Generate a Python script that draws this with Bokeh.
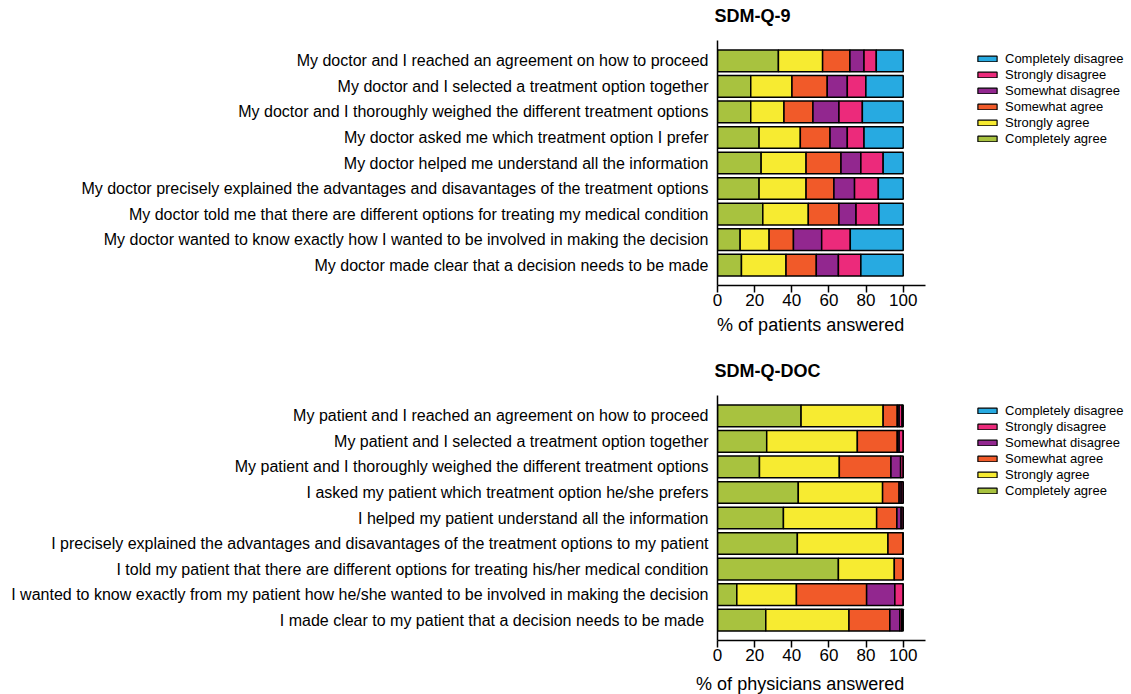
from bokeh.plotting import figure
from bokeh.models import (ColumnDataSource, Range1d, FixedTicker, Legend, LegendItem, Label)
from bokeh.layouts import column, row
from bokeh.embed import file_html
from bokeh.resources import INLINE

# ---------------- data ----------------
responses = ["Completely agree", "Strongly agree", "Somewhat agree",
             "Somewhat disagree", "Strongly disagree", "Completely disagree"]
colors = ["#A8C23F", "#F7EB31", "#F15A29", "#92278F", "#EC2A7B", "#27AAE1"]

q9_items = [
    "My doctor and I reached an agreement on how to proceed",
    "My doctor and I selected a treatment option together",
    "My doctor and I thoroughly weighed the different treatment options",
    "My doctor asked me which treatment option I prefer",
    "My doctor helped me understand all the information",
    "My doctor precisely explained the advantages and disavantages of the treatment options",
    "My doctor told me that there are different options for treating my medical condition",
    "My doctor wanted to know exactly how I wanted to be involved in making the decision",
    "My doctor made clear that a decision needs to be made",
]
q9_completely_agree    = [32.8, 17.9, 17.9, 22.4, 23.5, 22.4, 24.4, 12.2, 12.9]
q9_strongly_agree      = [23.8, 22.2, 17.9, 22.2, 24.2, 25.3, 24.5, 15.6, 24.0]
q9_somewhat_agree      = [14.7, 19.0, 15.6, 16.0, 18.8, 15.0, 16.5, 13.1, 16.3]
q9_somewhat_disagree   = [7.6, 10.8, 14.0, 9.3, 10.7, 11.1, 9.2, 15.2, 11.9]
q9_strongly_disagree   = [6.6, 10.0, 12.6, 9.0, 12.0, 12.8, 12.3, 15.4, 12.1]
q9_completely_disagree = [14.5, 20.1, 22.0, 21.1, 10.8, 13.4, 13.1, 28.5, 22.8]

doc_items = [
    "My patient and I reached an agreement on how to proceed",
    "My patient and I selected a treatment option together",
    "My patient and I thoroughly weighed the different treatment options",
    "I asked my patient which treatment option he/she prefers",
    "I helped my patient understand all the information",
    "I precisely explained the advantages and disavantages of the treatment options to my patient",
    "I told my patient that there are different options for treating his/her medical condition",
    "I wanted to know exactly from my patient how he/she wanted to be involved in making the decision",
    "I made clear to my patient  that a decision needs to be made",
]
doc_completely_agree    = [45.0, 26.5, 22.6, 43.5, 35.5, 43.0, 65.1, 10.4, 26.0]
doc_strongly_agree      = [44.2, 48.8, 43.0, 45.4, 50.2, 48.8, 30.1, 32.1, 44.8]
doc_somewhat_agree      = [7.6, 21.5, 27.8, 8.9, 10.9, 8.2, 4.8, 37.8, 22.0]
doc_somewhat_disagree   = [1.0, 1.0, 5.2, 1.1, 2.3, 0.0, 0.0, 15.2, 5.4]
doc_strongly_disagree   = [1.6, 2.2, 1.4, 1.1, 1.1, 0.0, 0.0, 4.5, 1.0]
doc_completely_disagree = [0.6, 0.0, 0.0, 0.0, 0.0, 0.0, 0.0, 0.0, 0.8]

x_ticks = [0, 20, 40, 60, 80, 100]
x_max = 112

# ---------------- geometry ----------------
FONT = "Liberation Sans"
W = 1131
LEFT = 717          # frame left
FRAME_W = 208
RIGHT = 10
CHART_W = LEFT + FRAME_W + RIGHT
LEG_W = W - CHART_W
FRAME_H = 245
TOP = 10
BOTTOM = 30
CHART_H = TOP + FRAME_H + BOTTOM
X100 = LEFT + FRAME_W * 100 / x_max   # pixel of value 100
BASE_FIX = 7        # baseline correction for labels


def text_fig(height):
    f = figure(width=W, height=height, x_range=Range1d(0, W),
               y_range=Range1d(0, height), output_backend="svg",
               toolbar_location=None, x_axis_location=None,
               y_axis_location=None, min_border=0)
    f.outline_line_color = None
    f.xgrid.grid_line_color = None
    f.ygrid.grid_line_color = None
    return f


def add_title(f, text, from_top, height):
    f.add_layout(Label(x=LEFT - 3, y=height - from_top + BASE_FIX, text=text,
                       text_font=FONT, text_font_size="18px",
                       text_font_style="bold", text_color="black",
                       text_align="left", text_baseline="alphabetic"))


def add_xlabel(f, text, from_top, height):
    f.add_layout(Label(x=X100 + 1, y=height - from_top + BASE_FIX, text=text,
                       text_font=FONT, text_font_size="18px", text_color="black",
                       text_align="right", text_baseline="alphabetic"))


def make_chart(items, series):
    n = len(items)
    ypos = [n - i for i in range(n)]
    data = {"y": ypos}
    for name, vals in zip(responses, series):
        data[name] = vals
    src = ColumnDataSource(data)

    p = figure(width=CHART_W, height=CHART_H,
               x_range=Range1d(0, x_max), y_range=Range1d(0.2, n + 0.8),
               output_backend="svg", toolbar_location=None,
               min_border_left=LEFT, min_border_right=RIGHT,
               min_border_top=TOP, min_border_bottom=BOTTOM)
    p.outline_line_color = None
    p.xgrid.grid_line_color = None
    p.ygrid.grid_line_color = None

    p.hbar_stack(responses, y="y", height=0.85, source=src,
                 fill_color=colors, line_color="black", line_width=1.5)

    xa = p.xaxis[0]
    xa.ticker = FixedTicker(ticks=x_ticks)
    xa.minor_tick_line_color = None
    xa.major_tick_out = 7
    xa.major_tick_in = 0
    xa.major_tick_line_width = 1.5
    xa.major_tick_line_color = "black"
    xa.axis_line_width = 1.5
    xa.axis_line_color = "black"
    xa.major_label_text_font = FONT
    xa.major_label_text_font_size = "17px"
    xa.major_label_text_color = "black"
    xa.major_label_standoff = 1

    ya = p.yaxis[0]
    ya.ticker = FixedTicker(ticks=ypos)
    ya.major_label_overrides = {y: lab for y, lab in zip(ypos, items)}
    ya.minor_tick_line_color = None
    ya.major_tick_line_color = None
    ya.major_tick_out = 0
    ya.major_tick_in = 0
    ya.axis_line_width = 1.5
    ya.axis_line_color = "black"
    ya.major_label_text_font = FONT
    ya.major_label_text_font_size = "16px"
    ya.major_label_text_color = "black"
    ya.major_label_standoff = 9
    return p


def make_legend(gap_top, glyph_x=40):
    # frame aligned with the chart frame (same top/bottom borders)
    f = figure(width=LEG_W, height=CHART_H, x_range=Range1d(0, 1),
               y_range=Range1d(0, 1), output_backend="svg",
               toolbar_location=None, x_axis_location=None,
               y_axis_location=None, min_border=0,
               min_border_left=glyph_x, min_border_top=TOP,
               min_border_bottom=BOTTOM)
    f.outline_line_color = None
    f.xgrid.grid_line_color = None
    f.ygrid.grid_line_color = None
    nan = float("nan")
    rs = [f.hbar(y=[nan], left=[nan], right=[nan], height=0.5, fill_color=c,
                 line_color="black", line_width=1.2) for c in colors]
    items = [LegendItem(label=responses[k], renderers=[rs[k]])
             for k in range(len(responses) - 1, -1, -1)]
    row_h = 16
    leg_h = row_h * len(items)
    leg = Legend(items=items, location=(0, FRAME_H - gap_top - leg_h),
                 padding=0, spacing=0, margin=0,
                 glyph_width=24, glyph_height=7, label_height=row_h,
                 label_standoff=6, border_line_color=None,
                 background_fill_alpha=0,
                 label_text_font=FONT, label_text_font_size="13px",
                 label_text_color="black")
    f.add_layout(leg, "center")
    return f


t1_h = 30
t1 = text_fig(t1_h)
add_title(t1, "SDM-Q-9", 22, t1_h)

c1 = make_chart(q9_items,
                [q9_completely_agree, q9_strongly_agree, q9_somewhat_agree,
                 q9_somewhat_disagree, q9_strongly_disagree, q9_completely_disagree])
l1 = make_legend(10)

mid_h = 70
mid = text_fig(mid_h)
add_xlabel(mid, "% of patients answered", 16, mid_h)
add_title(mid, "SDM-Q-DOC", 62, mid_h)

c2 = make_chart(doc_items,
                [doc_completely_agree, doc_strongly_agree, doc_somewhat_agree,
                 doc_somewhat_disagree, doc_strongly_disagree, doc_completely_disagree])
l2 = make_legend(7)

foot_h = 694 - t1_h - CHART_H - mid_h - CHART_H
foot = text_fig(foot_h)
add_xlabel(foot, "% of physicians answered", 20, foot_h)

layout = column(t1, row(c1, l1, spacing=0), mid, row(c2, l2, spacing=0), foot,
                spacing=0)

open("out.html", "w").write(file_html(layout, INLINE))
